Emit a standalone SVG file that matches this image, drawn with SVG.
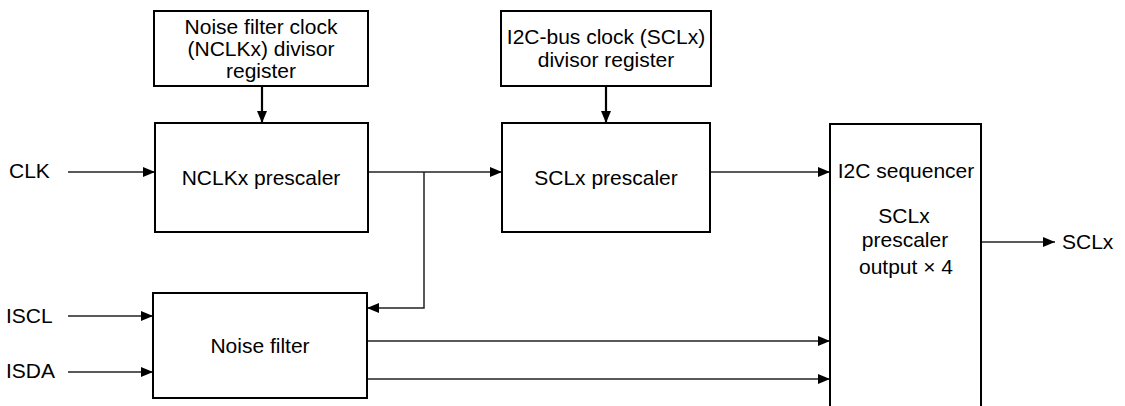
<svg xmlns="http://www.w3.org/2000/svg" width="1125" height="406" viewBox="0 0 1125 406">
<style>
.box{fill:#fff;stroke:#000;stroke-width:2}
.t{font-family:"Liberation Sans",Arial,sans-serif;font-size:21px;fill:#000}
.c{text-anchor:middle}
.w{fill:none;stroke:#222;stroke-width:1.5}
.wt{fill:none;stroke:#000;stroke-width:2.2}
</style>
<defs>
<marker id="ah" markerUnits="userSpaceOnUse" markerWidth="12" markerHeight="10" refX="12" refY="5" orient="auto"><path d="M0,0 L12,5 L0,10 z" fill="#000"/></marker>
</defs>
<g id="connectors">
<line class="wt" x1="262" y1="86" x2="262" y2="123" marker-end="url(#ah)"/>
<line class="wt" x1="606" y1="86" x2="606" y2="123" marker-end="url(#ah)"/>
<line class="w" x1="68" y1="172" x2="155" y2="172" marker-end="url(#ah)"/>
<line class="w" x1="368" y1="172" x2="502" y2="172" marker-end="url(#ah)"/>
<polyline class="w" points="424,172 424,308 367,308" marker-end="url(#ah)"/>
<line class="w" x1="710" y1="172" x2="830" y2="172" marker-end="url(#ah)"/>
<line class="w" x1="68" y1="316" x2="153" y2="316" marker-end="url(#ah)"/>
<line class="w" x1="68" y1="372" x2="153" y2="372" marker-end="url(#ah)"/>
<line class="w" x1="367" y1="341" x2="830" y2="341" marker-end="url(#ah)"/>
<line class="w" x1="367" y1="379" x2="830" y2="379" marker-end="url(#ah)"/>
<line class="w" x1="981" y1="242" x2="1055" y2="242" marker-end="url(#ah)"/>
</g>
<g id="nclk-reg">
<rect class="box" x="154" y="11" width="214" height="75"/>
<text class="t c" x="261" y="34">Noise filter clock</text>
<text class="t c" x="261" y="56">(NCLKx) divisor</text>
<text class="t c" x="261" y="78">register</text>
</g>
<g id="scl-reg">
<rect class="box" x="501" y="11" width="210" height="75"/>
<text class="t c" x="606" y="44">I2C-bus clock (SCLx)</text>
<text class="t c" x="606" y="67">divisor register</text>
</g>
<g id="nclk-prescaler">
<rect class="box" x="155" y="123" width="213" height="109"/>
<text class="t c" x="261" y="185">NCLKx prescaler</text>
</g>
<g id="scl-prescaler">
<rect class="box" x="502" y="123" width="208" height="109"/>
<text class="t c" x="606" y="185">SCLx prescaler</text>
</g>
<g id="noise-filter">
<rect class="box" x="153" y="293" width="214" height="105"/>
<text class="t c" x="260" y="353">Noise filter</text>
</g>
<g id="sequencer">
<path class="box" d="M830,410 L830,124 L981,124 L981,410"/>
<text class="t c" x="906" y="178">I2C sequencer</text>
<text class="t c" x="904" y="223">SCLx</text>
<text class="t c" x="905" y="247">prescaler</text>
<text class="t c" x="906" y="274">output × 4</text>
</g>
<g id="labels">
<text class="t" x="9" y="178">CLK</text>
<text class="t" x="6" y="323">ISCL</text>
<text class="t" x="6" y="378">ISDA</text>
<text class="t" x="1062" y="249">SCLx</text>
</g>
</svg>
